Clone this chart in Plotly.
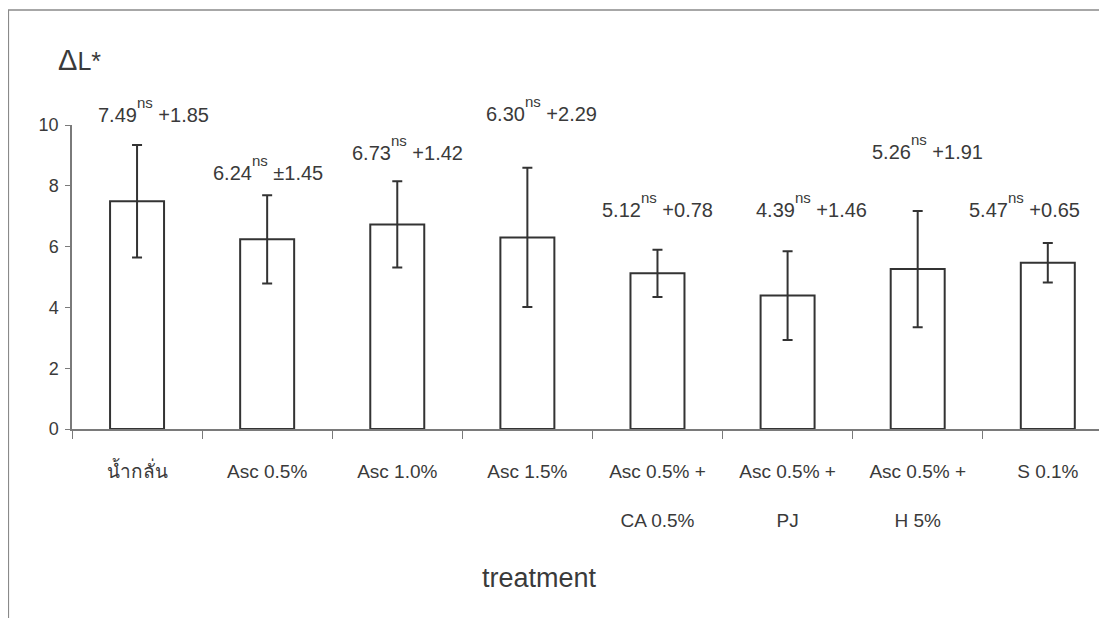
import plotly.graph_objects as go

# ---- data ----
categories = ["น้ำกลั่น", "Asc 0.5%", "Asc 1.0%", "Asc 1.5%",
              "Asc 0.5% + CA 0.5%", "Asc 0.5% + PJ", "Asc 0.5% + H 5%", "S 0.1%"]
tick_labels = ["น้ำกลั่น", "Asc 0.5%", "Asc 1.0%", "Asc 1.5%",
               "Asc 0.5% +<br><br>CA 0.5%", "Asc 0.5% +<br><br>PJ",
               "Asc 0.5% +<br><br>H 5%", "S 0.1%"]
means = [7.49, 6.24, 6.73, 6.30, 5.12, 4.39, 5.26, 5.47]
sds = [1.85, 1.45, 1.42, 2.29, 0.78, 1.46, 1.91, 0.65]
signs = ["+", "±", "+", "+", "+", "+", "+", "+"]
y_ticks = [0, 2, 4, 6, 8, 10]

# ---- label placement (layout only; x in category units, y in axis units) ----
label_x = [-0.316, 0.571, 1.640, 2.670, 3.561, 4.740, 5.637, 6.379]
label_y = [10.50, 8.59, 9.25, 10.52, 7.36, 7.36, 9.27, 7.36]
Y_MAX = 10

FONT = "Liberation Sans, Arial, Noto Sans, DejaVu Sans, sans-serif"
TXT = "#3a3a3a"
AX = "#7a7a7a"
DARK = "#333333"

fig = go.Figure()
fig.add_trace(go.Bar(
    x=categories, y=means,
    width=0.415,
    marker=dict(color="white", line=dict(color=DARK, width=2)),
    error_y=dict(type="data", array=sds, visible=True, color=DARK, thickness=2, width=5),
    showlegend=False,
))

annotations = []
for i, (m, s, sg) in enumerate(zip(means, sds, signs)):
    annotations.append(dict(
        x=label_x[i], y=label_y[i] / Y_MAX, xref="x", yref="paper",
        text=f"{m:.2f}<sup><sup><span style='font-size:15px'>ns</span></sup></sup> {sg}{s:.2f}",
        showarrow=False, xanchor="left", yanchor="middle",
        font=dict(family=FONT, size=20, color=TXT),
    ))

# Y-axis title (ΔL*)
annotations.append(dict(
    x=-0.0155, y=1.215, xref="paper", yref="paper",
    text="Δ<span style='font-size:25px'>L*</span>",
    showarrow=False, xanchor="left", yanchor="middle",
    font=dict(family=FONT, size=29, color=TXT),
))
# X-axis title
annotations.append(dict(
    x=0.4517, y=-0.49, xref="paper", yref="paper",
    text="treatment",
    showarrow=False, xanchor="center", yanchor="middle",
    font=dict(family=FONT, size=27, color=TXT),
))

# The page body has an 8px margin; figure size/margins compensate for it.
fig.update_layout(
    width=1099, height=610,
    margin=dict(l=64, r=0, t=117, b=189),
    paper_bgcolor="white", plot_bgcolor="white",
    font=dict(family=FONT, color=TXT),
    annotations=annotations,
    shapes=[dict(type="rect", xref="paper", yref="paper",
                 x0=-0.0615, x1=1.05, y0=-0.75, y1=1.378,
                 line=dict(color="#8a8a8a", width=1.5), layer="below")],
)
fig.update_xaxes(
    type="category",
    categoryorder="array", categoryarray=categories,
    tickmode="array", tickvals=categories, ticktext=tick_labels,
    range=[-0.5, 7.455],
    showline=True, linecolor=AX, linewidth=1.5,
    ticks="outside", ticklen=8, tickcolor=AX, tickwidth=1,
    tickson="boundaries",
    tickfont=dict(family=FONT, size=19, color=TXT),
    ticklabelstandoff=24,
    showgrid=False, zeroline=False,
)
fig.update_yaxes(
    range=[0, Y_MAX],
    tickmode="array", tickvals=y_ticks,
    showline=True, linecolor=AX, linewidth=1.5,
    ticks="outside", ticklen=5, tickcolor=AX, tickwidth=1,
    tickfont=dict(family=FONT, size=18, color=TXT),
    ticklabelstandoff=3,
    showgrid=False, zeroline=False,
)

fig.write_html("out.html")
